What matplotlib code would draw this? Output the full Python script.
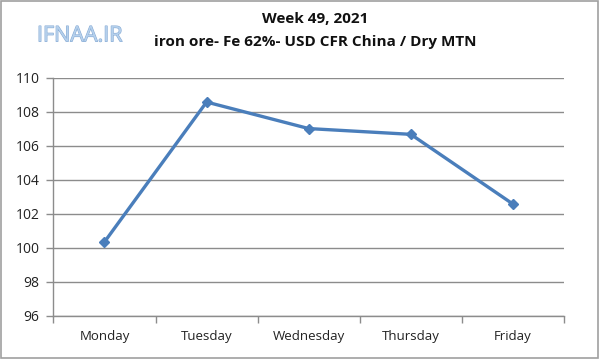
import matplotlib
matplotlib.use("Agg")
import matplotlib.pyplot as plt
from matplotlib.patches import Rectangle
import matplotlib.patheffects as pe

days = ["Monday", "Tuesday", "Wednesday", "Thursday", "Friday"]
prices = [100.35, 108.58, 107.02, 106.68, 102.58]
yticks = [96, 98, 100, 102, 104, 106, 108, 110]
title1 = "Week 49, 2021"
title2 = "iron ore- Fe 62%- USD CFR China / Dry MTN"
logo = "IFNAA.IR"

fig = plt.figure(figsize=(6, 3.59), dpi=100)
fig.patch.set_facecolor("white")
fig.add_artist(Rectangle((0.002, 0.003), 0.995, 0.994, transform=fig.transFigure,
                         fill=False, edgecolor="#a0a0a0", linewidth=1.2))

ax = fig.add_axes([0.089, 0.12, 0.851, 0.663])
x = list(range(len(days)))
ax.plot(x, prices, color="#4A7EBB", linewidth=2.4, marker="D", markersize=5.5,
        markerfacecolor="#4A7EBB", markeredgecolor="#4A7EBB", zorder=3)

ax.set_xlim(-0.5, len(days) - 0.5)
ax.set_ylim(96, 110)
ax.set_yticks(yticks)
ax.set_yticklabels([str(v) for v in yticks], fontsize=10, fontfamily="Open Sans", color="#222222")
ax.yaxis.grid(True, color="#8c8c8c", linewidth=1)
ax.set_axisbelow(True)

ax.set_xticks(x)
ax.set_xticklabels(days, fontsize=9.5, fontfamily="Open Sans", color="#222222")
ax.tick_params(axis="x", length=0, pad=10)
ax.set_xticks([i - 0.5 for i in range(len(days) + 1)], minor=True)
ax.tick_params(axis="x", which="minor", length=5, color="#8c8c8c", width=1)
ax.tick_params(axis="y", length=5, color="#8c8c8c", width=1, pad=5)

for s in ["top", "right"]:
    ax.spines[s].set_visible(False)
for s in ["left", "bottom"]:
    ax.spines[s].set_color("#8c8c8c")
    ax.spines[s].set_linewidth(1)

fig.text(0.525, 0.948, title1, ha="center", va="center", fontsize=11,
         fontweight="bold", fontfamily="Open Sans", color="#111111")
fig.text(0.525, 0.882, title2, ha="center", va="center", fontsize=11,
         fontweight="bold", fontfamily="Open Sans", color="#111111")
fig.text(0.133, 0.9, logo, ha="center", va="center", fontsize=15.5,
         fontfamily="Open Sans", color="#b5d0ec",
         path_effects=[pe.withStroke(linewidth=0.8, foreground="#86aad4")])

fig.savefig("out.png", dpi=100, facecolor="white")
